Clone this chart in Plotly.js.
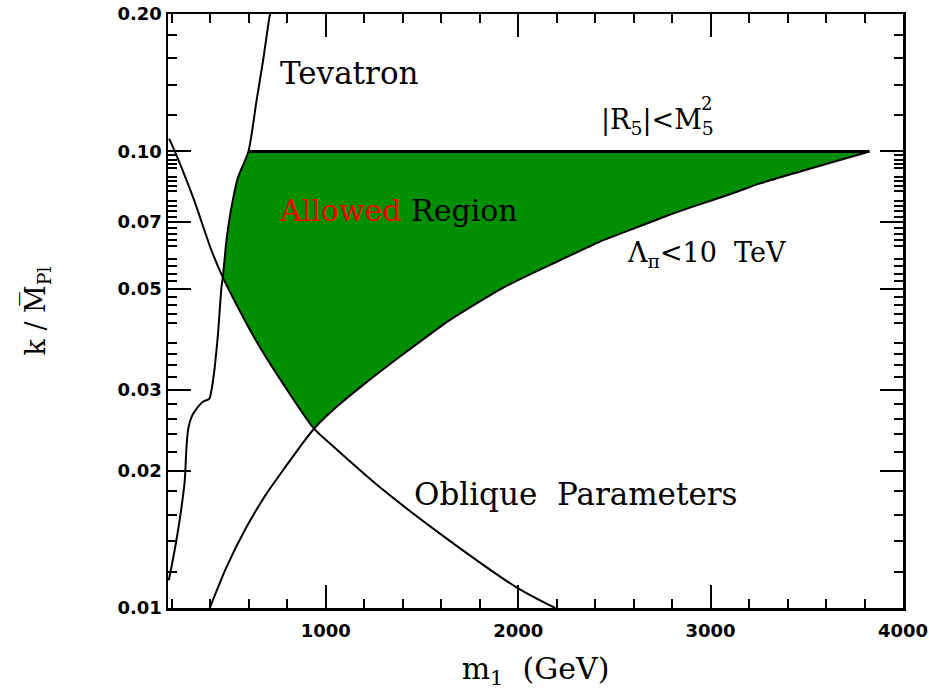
<!DOCTYPE html>
<html>
<head>
<meta charset="utf-8">
<script src="https://cdn.plot.ly/plotly-3.0.1.min.js"></script>
<style>html,body{margin:0;padding:0;background:#fff;}#chart{width:929px;height:693px;}</style>
</head>
<body>
<div id="chart"></div>
<script>
// ---- Data (m1 in GeV, k/MPl) ----
const tevatronX = [184, 198, 224, 250, 267, 276, 284, 302, 328, 362, 394, 406, 414, 423, 440, 458, 465, 484, 510, 544, 598, 640, 674, 709, 712];
const tevatronY = [0.0115, 0.0123, 0.0141, 0.0166, 0.0190, 0.0225, 0.0245, 0.0262, 0.0273, 0.0283, 0.0287, 0.0300, 0.0315, 0.0337, 0.0399, 0.0505, 0.0530, 0.0639, 0.0755, 0.0878, 0.1000, 0.129, 0.158, 0.1985, 0.2];

const obliqueX = [186, 198, 310, 406, 465, 570, 657, 778, 939, 1038, 1280, 1618, 2000, 2192];
const obliqueY = [0.1066, 0.1040, 0.0794, 0.0607, 0.0530, 0.0434, 0.0373, 0.0310, 0.0247, 0.0226, 0.0184, 0.0143, 0.01104, 0.0100];

const lambdaX = [397, 484, 588, 692, 796, 865, 939, 1055, 1211, 1384, 1557, 1644, 1930, 2215, 2423, 2562, 2770, 2908, 3116, 3254, 3462, 3809, 3826];
const lambdaY = [0.0100, 0.01229, 0.01504, 0.01780, 0.02053, 0.02252, 0.0247, 0.02755, 0.0312, 0.0355, 0.0402, 0.0427, 0.0505, 0.0577, 0.0634, 0.0668, 0.0722, 0.0757, 0.0810, 0.0850, 0.0903, 0.0995, 0.1000];

const r5X = [598, 3826];
const r5Y = [0.1, 0.1];

// ---- Tick values / labels ----
const xMajorTicks = [1000, 2000, 3000, 4000];
const xTickText = ['1000', '2000', '3000', '4000'];
const yMajorTicks = [0.01, 0.02, 0.03, 0.05, 0.07, 0.1, 0.2];
const yTickText = ['0.01', '0.02', '0.03', '0.05', '0.07', '0.10', '0.20'];
const yLongUnlabeled = [0.04, 0.06, 0.08, 0.09];
const yMinorTicks = [0.012, 0.014, 0.016, 0.018, 0.022, 0.024, 0.026, 0.028, 0.032, 0.034, 0.036, 0.038,
  0.042, 0.044, 0.046, 0.048, 0.052, 0.054, 0.056, 0.058, 0.062, 0.064, 0.066, 0.068,
  0.072, 0.074, 0.076, 0.078, 0.082, 0.084, 0.086, 0.088, 0.092, 0.094, 0.096, 0.098,
  0.12, 0.14, 0.16, 0.18];

// ---- Allowed region polygon built from the curves ----
const fillX = [], fillY = [];
tevatronX.forEach((x, i) => { if (x >= 465 && tevatronY[i] <= 0.1) { fillX.push(x); fillY.push(tevatronY[i]); } });
for (let i = lambdaX.length - 1; i >= 0; i--) { if (lambdaX[i] >= 939) { fillX.push(lambdaX[i]); fillY.push(lambdaY[i]); } }
for (let i = obliqueX.length - 1; i >= 0; i--) { if (obliqueX[i] < 939 && obliqueX[i] >= 465) { fillX.push(obliqueX[i]); fillY.push(obliqueY[i]); } }

const lineStyle = {color: '#000', width: 2, shape: 'spline', smoothing: 0.7};
const traces = [
  {x: fillX, y: fillY, type: 'scatter', mode: 'lines', fill: 'toself', fillcolor: '#008f00', line: {width: 0}, hoverinfo: 'skip'},
  {x: tevatronX, y: tevatronY, type: 'scatter', mode: 'lines', line: lineStyle},
  {x: obliqueX, y: obliqueY, type: 'scatter', mode: 'lines', line: lineStyle},
  {x: lambdaX, y: lambdaY, type: 'scatter', mode: 'lines', line: lineStyle},
  {x: r5X, y: r5Y, type: 'scatter', mode: 'lines', line: {color: '#000', width: 3}}
];

const serif = 'DejaVu Serif';
const L = 168, R = 903, T = 14, B = 608;
function px(xp) { return (xp - L) / (R - L); }
function py(yp) { return (B - yp) / (B - T); }
function ann(text, xp, yp, size, extra) {
  return Object.assign({text: text, xref: 'paper', yref: 'paper', x: px(xp), y: py(yp), xanchor: 'center', yanchor: 'middle', showarrow: false, font: {family: serif, size: size, color: '#000'}}, extra || {});
}

// long unlabeled ticks (left and right) drawn as shapes
const tickShapes = [];
const longLen = 23 / (R - L);
yLongUnlabeled.forEach(v => {
  const ly = Math.log10(v);
  tickShapes.push({type: 'line', xref: 'paper', yref: 'y', x0: 0, x1: longLen, y0: ly, y1: ly, line: {color: '#000', width: 2}});
  tickShapes.push({type: 'line', xref: 'paper', yref: 'y', x0: 1 - longLen, x1: 1, y0: ly, y1: ly, line: {color: '#000', width: 2}});
});

const layout = {
  width: 929, height: 693,
  margin: {l: L, r: 929 - R, t: T, b: 693 - B},
  paper_bgcolor: '#fff', plot_bgcolor: '#fff',
  showlegend: false,
  xaxis: {
    range: [180, 4000], type: 'linear',
    tickmode: 'array', tickvals: xMajorTicks, ticktext: xTickText,
    ticks: 'inside', ticklen: 23, tickwidth: 2, tickcolor: '#000',
    minor: {dtick: 200, tick0: 0, ticks: 'inside', ticklen: 9, tickwidth: 2, tickcolor: '#000'},
    showline: true, linewidth: 2.5, linecolor: '#000', mirror: 'ticks',
    showgrid: false, zeroline: false,
    ticklabelstandoff: 5,
    tickfont: {family: 'DejaVu Sans', size: 18, color: '#000', weight: 'bold'},
    title: {text: 'm<sub>1</sub>  (GeV)', font: {family: serif, size: 30, color: '#000'}, standoff: 18}
  },
  yaxis: {
    type: 'log', range: [-2, Math.log10(0.2)],
    tickmode: 'array', tickvals: yMajorTicks, ticktext: yTickText,
    ticks: 'inside', ticklen: 23, tickwidth: 2, tickcolor: '#000',
    minor: {tickmode: 'array', tickvals: yMinorTicks, ticks: 'inside', ticklen: 9, tickwidth: 2, tickcolor: '#000'},
    showline: true, linewidth: 2.5, linecolor: '#000', mirror: 'ticks',
    showgrid: false, zeroline: false,
    tickfont: {family: 'DejaVu Sans', size: 18, color: '#000', weight: 'bold'},
    title: {text: 'k / M\u0305<sub>Pl</sub>', font: {family: serif, size: 27, color: '#000'}, standoff: 64}
  },
  shapes: tickShapes,
  annotations: [
    ann('Tevatron', 349, 73, 31),
    ann('<span style="color:#ff0000">Allowed</span> Region', 398, 210, 30),
    ann('|R<sub>5</sub>|&lt;M<sub>5</sub>', 657, 122, 27),
    ann('2', 706, 103, 18),
    ann('\u039B<sub>\u03C0</sub>&lt;10  TeV', 706, 254, 27),
    ann('Oblique  Parameters', 575, 494, 31)
  ]
};

Plotly.newPlot('chart', traces, layout, {staticPlot: true, displayModeBar: false});
</script>
</body>
</html>
